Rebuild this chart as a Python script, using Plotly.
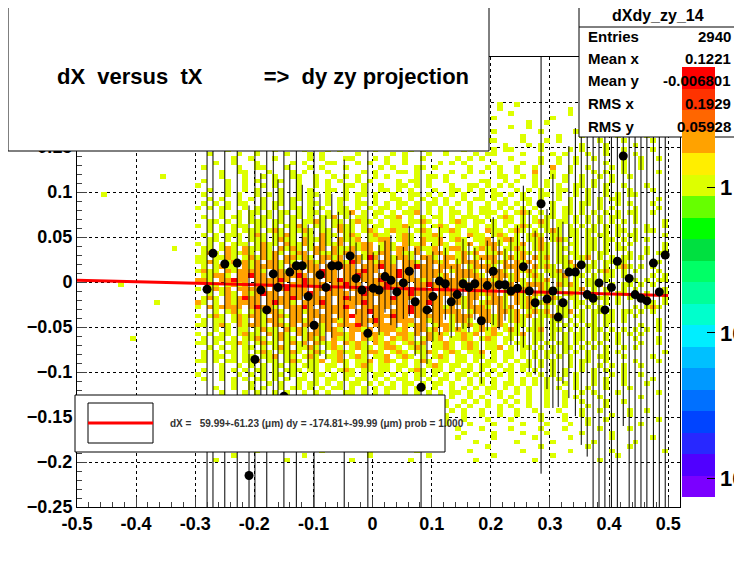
import numpy as np
import plotly.graph_objects as go

# profile points (x bin centre, mean y, error)
prof_x = [-0.280, -0.270, -0.250, -0.229, -0.209, -0.199, -0.189, -0.179, -0.168, -0.160,
          -0.150, -0.140, -0.129, -0.119, -0.109, -0.099, -0.089, -0.079, -0.069, -0.058,
          -0.048, -0.038, -0.028, -0.018, -0.008, 0.001, 0.011, 0.021, 0.031, 0.041,
          0.052, 0.062, 0.072, 0.082, 0.092, 0.102, 0.113, 0.123, 0.133, 0.143,
          0.153, 0.163, 0.173, 0.184, 0.194, 0.204, 0.214, 0.224, 0.234, 0.245,
          0.255, 0.265, 0.275, 0.285, 0.295, 0.305, 0.314, 0.322, 0.332, 0.343,
          0.353, 0.363, 0.373, 0.383, 0.393, 0.404, 0.414, 0.424, 0.434, 0.444,
          0.454, 0.464, 0.475, 0.485, 0.495]
prof_y = [-0.008, 0.032, 0.020, 0.021, -0.215, -0.086, -0.009, -0.031, 0.009, -0.006,
          -0.127, 0.011, 0.018, 0.018, -0.016, -0.048, 0.008, -0.006, 0.018, 0.018,
          -0.164, 0.029, 0.004, -0.009, -0.057, -0.007, -0.009, 0.006, 0.002, -0.011,
          -0.001, 0.012, -0.022, -0.117, -0.031, -0.016, 0.001, -0.002, -0.022, -0.014,
          -0.002, -0.006, -0.002, -0.043, -0.004, 0.012, -0.003, -0.003, -0.010, -0.007,
          0.017, -0.010, -0.023, 0.087, -0.019, -0.010, -0.039, -0.023, 0.011, 0.011,
          0.019, -0.014, -0.018, -0.001, -0.031, -0.006, 0.023, 0.140, 0.004, -0.014,
          -0.018, -0.021, 0.021, -0.011, 0.030]
prof_e = [0.30, 0.30, 0.30, 0.30, 0.30, 0.30, 0.13, 0.30, 0.14, 0.12,
          0.30, 0.12, 0.30, 0.09, 0.08, 0.30, 0.09, 0.08, 0.08, 0.06,
          0.30, 0.05, 0.04, 0.04, 0.30, 0.04, 0.05, 0.04, 0.05, 0.04,
          0.04, 0.05, 0.06, 0.30, 0.06, 0.05, 0.06, 0.04, 0.04, 0.04,
          0.05, 0.05, 0.04, 0.07, 0.05, 0.06, 0.05, 0.04, 0.06, 0.07,
          0.09, 0.09, 0.08, 0.30, 0.10, 0.13, 0.10, 0.09, 0.14, 0.16,
          0.20, 0.18, 0.30, 0.30, 0.30, 0.30, 0.30, 0.30, 0.30, 0.30,
          0.30, 0.30, 0.30, 0.30, 0.30]

# fit line parameters
fit_slope = -0.017
fit_icpt = -0.0065
fit_range = [-0.5, 0.5]

# 2D histogram, read as coarse levels: g=1 entry, o=~2, r=~5
hist_x0 = -0.3
hist_y_top = 0.195
hist_rows = [
    "..........g.....g..........g....g.......g..........g..g...........g.......g.....",
    "....g.........g.........g......g....g.......g......g....g.........g.....g.g.....",
    "........g....g.....g.....g........gg......g....g.........g..g........g.....g...g.",
    "...g......g.......g...g.....g...g.......g....g.g......g.......g.....g...g.....g..",
    ".......g...g...g.....gg...g....g...g..gg....g......gg....g...g.g......g...g....g",
    "..g.......g....g..g....g...g.g.....g.....g.g...g..g....g.gg....g....g.g...g..g..",
    "......g..g...g.....g.g...gg...g.g..g..g.....g.g.g....g....g..g..g..g....g..g..g",
    "...g.....g..gg...g...g.g...g.....g.g...gg.g.....g..g.g..g..g..o..g..g...g.g..g.",
    "........g...g..g.g..gg..g..g.g.g..g.g....g.gg.g..g.....gg..g.g..g.g..g..g.g..g.",
    ".g....g..g..g.g...g..g.g..gg.g..g..gg.g.g...g..gg.g.g.g...g.g.g..gg.g.g..g...g.",
    "....g...g.g..g.g.g..g.gg.g..g.gg.g..g..gg.g.g.g.g..g.gg.g.g..gg.g..g.g..g.g.gg.",
    "..g...g.g.g.gg..g.gg.g..gg.g.g..gg.g.g.gg.g.gg.g.g.g..g.gg.g.g.g.g..g.gg.g..g.g",
    ".....g..g.gg.g.gg.g.gg.g.ggo.g.gg.g.ggo.g.g.gg.g.ggg.g.gog.g.g.gg.g.g.g.g.gg..g",
    "...g..gg.g.g.ggg.gg.g.ggog.gg.gogg.g.gg.ggog.g.gog.gg.g.gg.g.gog.gg.g.g.g.g.g.g",
    "..g.g.g.ggg.gog.ggog.gg.ogg.gog.gogg.gog.ggog.gg.ogg.gog.g.gog.gg.gg.g.gg.g.gg.",
    "....gg.g.g.ggg.gogg.oggog.oggo.ggoo.gog.oggo.gog.ggo.goog.ggo.gog.g.gg.gg.g.g.g",
    ".g..g.gg.gog.oggog.ogog.goo.oggogoo.gogoo.oggo.goog.gogo.ggog.gog.gg.g.gg.g.gg.",
    "...gg.ggog.gogogo.oogog.oogo.oogro.ogoog.oog.oogo.gooo.gogo.ogo.gg.ggo.g.g.gg.g",
    "..g.gogg.ogoooog.oogoo.ooroo.oooroo.ooroo.oooo.gooog.ooog.ogog.ggo.gg.g.gog.g.g",
    ".g.g.ggoog.ooroo.ooooro.oroo.ooroo.oooroo.ooogo.oooog.ooogo.gog.ggo.gg.g.gg.g..",
    "..gg.gogo.ooooo.oorooo.ooroo.ooorooo.ooroo.oorooo.oooo.gooog.ogog.ggo.g.gg.g.g.",
    ".g..g.gog.ogoroo.ooooro.oooo.oroooo.oorooo.oooo.oogoo.goog.ogog.gog.gg.g.gg.g.g",
    "..g.gog.g.ogoooo.oroog.oooro.ooooro.ooooo.ooroo.oogo.gooog.ogo.gog.g.gg.g.g.g..",
    "....g.gog.gogoog.oogoo.oooo.ooroo.oooroo.ooooo.gooo.oogo.gogo.ggo.g.gg.g.gg.g.g",
    ".g..g.gg.gog.ogoog.oogo.ooogo.oooro.oooo.ogoo.goog.gogo.gog.gg.gg.g.g.g.gg.g..",
    "...g.g.gg.gogg.ogog.ogoog.oogo.ooogo.oogo.ogog.gogo.gog.ggo.gg.g.g.gg.g.g.g.g.g",
    "..g..g.gg.g.ggog.gogg.gogo.oggo.ogog.ogog.gogo.ggog.gog.gg.g.gg.g.g.gg.g.g.g..g",
    "....g.g.g.gg.g.gog.ggog.gog.gogg.goog.gog.ggog.gog.ggo.g.gg.g.g.gg.g.g.g..g.g..",
    "..g...g.gg.g.gg.ggo.gg.gog.ggo.gog.ggo.gog.g.gog.gg.gg.g.gg.g.g.g.g.g..g.gg..g.",
    ".....g..g.g.g.gg.g.ggg.gg.g.gog.gg.gg.g.gog.gg.g.gg.g.g.gg.g.g..g.g..g.g.g..g..",
    "...g...g..g.g.g.gg.g.g.gg.g.gg.g.gg.g.g.gg.g.g.gg.g.g.g.g..g.g.g.g.g..g..g.g..g",
    "......g..g..g.g..g.gg.g.g.gg.g.g.g.gg.g.gg.g..g.g.g.gg.g.g.g..g.g..g.g..g...g..",
    "..g.....g...g.g..g.g..g.g.g..gg.g.g.g..g.g.g.g.gg.g..g.g..g.g..g..g..g.g...g...",
    ".....g.....g..g.g...g.g..g.g..g..g.g.g.g..g.g..g.g.g..g.g.g..g..g..g...g..g....",
    "........g.....g...g..g..g...g.g..g..g..g.g..g.g..g..g..g..g...g...g..g....g..g.",
    "...g........g...g....g...g..g...g..g...g...g...g..g...g...g....g...g...g..g.....",
    ".......g.........g.....g....g....g...g....g....g...g....g....g...g.....g....g...",
    "..........g.........g.....g.....g.....g.....g.....g......g.....g......g......g..",
    "....g..........g..........g.......g.......g........g........g.......g......g....",
    "..........g...........g..........g.........g..........g.........g..........g...",
]
# per-row horizontal offsets (in cells) so columns do not line up
row_shift = [0, 3, 1, 4, 2, 5, 0, 2, 4, 1, 3, 5, 1, 4, 0, 2, 5, 3, 1, 4,
             0, 2, 5, 1, 3, 0, 4, 2, 5, 1, 3, 0, 4, 2, 1, 5, 3, 0, 2, 4]
# a few isolated entries on the far left
extra_x = [-0.455, -0.395, -0.355, -0.365, -0.405, -0.335, -0.425, -0.345]
extra_y = [0.095, 0.185, 0.115, -0.025, -0.065, 0.035, -0.005, -0.145]

level = {"g": 0.0, "o": 0.35, "r": 0.75}
ncol = 80
nrow = len(hist_rows)
xc = [hist_x0 + 0.005 + 0.01 * i for i in range(ncol)]
# each text row covers two histogram rows of 0.005, the lower one offset
yc = [hist_y_top + 0.0025 - 0.005 * j for j in range(2 * nrow)]
z = []
for row, sh in zip(hist_rows, row_shift):
    row = row.ljust(ncol, ".")[:ncol]
    a = row[sh:] + row[:sh]
    b = row[sh + 3:] + row[:sh + 3]
    z.append([level.get(c) for c in a])
    z.append([level.get(c) for c in b])

xl = [-0.5 + 0.005 + 0.01 * i for i in range(20)]
zl = [[None] * 20 for _ in range(2 * nrow)]
for ex, ey in zip(extra_x, extra_y):
    i = int(round((ex + 0.5 - 0.005) / 0.01))
    j = int(round((hist_y_top + 0.0025 - ey) / 0.005))
    zl[j][i] = 0.0
xs = xl + xc
zs = [a + b for a, b in zip(zl, z)]

zmin, zmax = -2.13, 0.83
pal = ["#7b00ff", "#5000ff", "#2828ff", "#0044ff", "#0070ff", "#0099ff", "#00c0ff",
       "#00eeff", "#00ffcc", "#00ff99", "#00ff66", "#00e040", "#00ff00", "#66ff00",
       "#ddff00", "#ffee00", "#ffa200", "#ff6600", "#ff3300", "#ff0000"]
cs = []
n = len(pal)
for k, c in enumerate(pal):
    cs.append([k / n, c])
    cs.append([(k + 1) / n, c])

fig = go.Figure()
fig.add_trace(go.Heatmap(
    x=xs, y=yc, z=zs, zmin=zmin, zmax=zmax, colorscale=cs, hoverongaps=False,
    colorbar=dict(x=0.987, xanchor="left", y=0, yanchor="bottom", len=1, lenmode="fraction",
                  thickness=33, outlinewidth=0, tickvals=[0, -1, -2],
                  ticktext=["1", "10<sup>-1</sup>", "10<sup>-2</sup>"],
                  ticks="inside", ticklen=8, tickcolor="black",
                  tickfont=dict(size=22, family="Liberation Sans", color="black", weight="bold")),
))
fx = np.array(fit_range)
fig.add_trace(go.Scatter(x=fx, y=fit_icpt + fit_slope * fx, mode="lines",
                         line=dict(color="red", width=3), showlegend=False))
fig.add_trace(go.Scatter(
    x=prof_x, y=prof_y, mode="markers",
    marker=dict(color="black", size=9),
    error_y=dict(type="data", array=prof_e, color="black", thickness=1, width=0),
    showlegend=False,
))

axfont = dict(size=18, family="Liberation Sans", color="black", weight="bold")
fig.update_xaxes(range=[-0.5, 0.52], tickvals=[-0.5, -0.4, -0.3, -0.2, -0.1, 0, 0.1, 0.2, 0.3, 0.4, 0.5],
                 ticktext=["-0.5", "-0.4", "-0.3", "-0.2", "-0.1", "0", "0.1", "0.2", "0.3", "0.4", "0.5"],
                 showgrid=True, gridcolor="black", griddash="dot", gridwidth=1,
                 showline=True, linecolor="black", mirror=True, ticks="inside", ticklen=10,
                 minor=dict(ticks="inside", ticklen=5, dtick=0.02),
                 tickfont=axfont, zeroline=False)
fig.update_yaxes(range=[-0.25, 0.25], dtick=0.05, showgrid=True, gridcolor="black", griddash="dot",
                 gridwidth=1, showline=True, linecolor="black", mirror=True, ticks="inside",
                 ticklen=10, minor=dict(ticks="inside", ticklen=5, dtick=0.01),
                 tickfont=axfont, zeroline=False)


def px(v):
    return (v - 77) / 603


def py(v):
    return (507 - v) / 450


shapes = [
    dict(x0=px(8), x1=px(489), y0=py(151), y1=py(2)),
    dict(x0=px(579), x1=px(737), y0=py(137), y1=py(2)),
    dict(x0=px(75), x1=px(445), y0=py(452), y1=py(395)),
    dict(x0=px(88), x1=px(153), y0=py(443), y1=py(403)),
]
for s in shapes:
    fig.add_shape(type="rect", xref="paper", yref="paper", line=dict(color="black", width=1),
                  fillcolor="white", **s)
fig.add_shape(type="line", xref="paper", yref="paper", x0=px(579), x1=px(737), y0=py(27), y1=py(27),
              line=dict(color="black", width=1))
fig.add_shape(type="line", xref="paper", yref="paper", x0=px(88), x1=px(153), y0=py(423), y1=py(423),
              line=dict(color="red", width=3))

ann = [
    dict(x=px(263), y=py(77), text="dX  versus  tX          =>  dy zy projection",
         font=dict(size=22, weight="bold"), xanchor="center"),
    dict(x=px(658), y=py(15), text="dXdy_zy_14", font=dict(size=16, weight="bold"), xanchor="center"),
    dict(x=px(168), y=py(423), text="dX =   59.99+-61.23 (\u03bcm) dy = -174.81+-99.99 (\u03bcm) prob = 1.000",
         font=dict(size=10, weight="bold", color="#333333"), xanchor="left"),
]
stats_lab = ["Entries", "Mean x", "Mean y", "RMS x", "RMS y"]
stats_val = ["2940", "0.1221", "-0.006801", "0.1929", "0.05928"]
stats_py = [36, 58, 80, 103, 126]
for lab, val, yy in zip(stats_lab, stats_val, stats_py):
    ann.append(dict(x=px(586), y=py(yy), text=lab, font=dict(size=15, weight="bold"), xanchor="left"))
    ann.append(dict(x=px(733), y=py(yy), text=val, font=dict(size=15, weight="bold"), xanchor="right"))
for a in ann:
    f = a.pop("font")
    f.setdefault("color", "black")
    f["family"] = "Liberation Sans"
    fig.add_annotation(xref="paper", yref="paper", yanchor="middle", showarrow=False, font=f, **a)

fig.update_layout(width=734, height=557, margin=dict(l=69, r=62, t=49, b=58, autoexpand=False),
                  plot_bgcolor="white", paper_bgcolor="white", showlegend=False)
fig.write_html("out.html")
